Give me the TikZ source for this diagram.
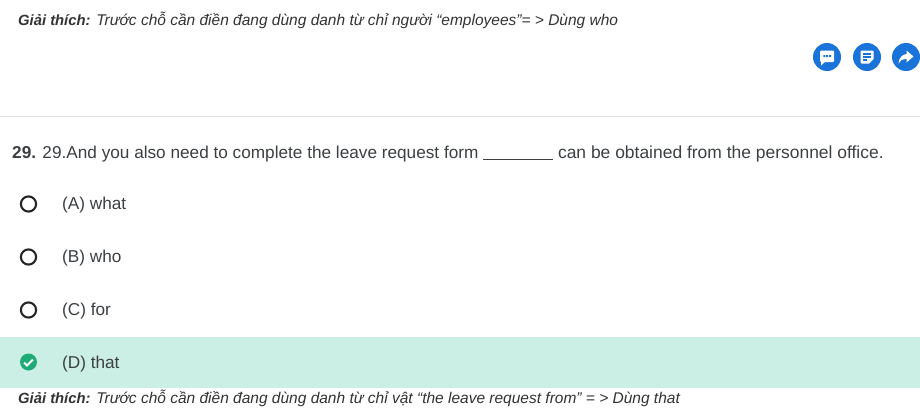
\documentclass[tikz,border=0pt]{standalone}
\usepackage{fontspec}
\setmainfont{Liberation Sans}
\definecolor{txt}{HTML}{3C4043}
\definecolor{exp}{HTML}{333333}
\definecolor{bluec}{HTML}{1A73D9}
\definecolor{greenbar}{HTML}{CBEFE4}
\definecolor{greenc}{HTML}{1FAB78}
\definecolor{rule}{HTML}{DDDDDD}
\newcommand{\explabel}{{\fontsize{14.8}{18}\selectfont\textbf{\textit{Giải thích:}}}}
\tikzset{x=1pt,y=-1pt,
 qtext/.style={anchor=base west,inner sep=0,text=txt,font=\fontsize{17.2}{20}\selectfont},
 etext/.style={anchor=base west,inner sep=0,text=exp,font=\fontsize{15.5}{18}\selectfont},
 radio/.style={circle,draw=black!85,line width=2.1pt,fill=white,minimum size=15.2pt,inner sep=0},
 badge/.style={circle,fill=bluec,minimum size=28pt,inner sep=0}}
\begin{document}
\begin{tikzpicture}
\useasboundingbox (0,0) rectangle (920,415);
\fill[white] (0,0) rectangle (920,415);
\node[etext] (e1) at (18,25) {\explabel{} \textit{Trước chỗ cần điền đang dùng danh từ chỉ người “employees”= > Dùng who}};
\node[badge] (b1) at (827,57) {};
\node[badge] (b2) at (867,57) {};
\node[badge] (b3) at (906,57) {};
% chat icon
\fill[white,rounded corners=1pt] (820,50.5) rectangle (834,62) ;
\fill[white] (821,61) -- (821,65.5) -- (826,61) -- cycle;
\fill[bluec] (823.3,55.2) rectangle (825.3,57.2) (826.2,55.2) rectangle (828.2,57.2) (829.1,55.2) rectangle (831.1,57.2);
% note icon
\fill[white,rounded corners=1pt] (860.5,50.5) rectangle (873.5,63.5);
\draw[bluec,line width=1.2pt] (862.8,54) -- (871.2,54) (862.8,57) -- (871.2,57) (862.8,60) -- (867,60);
\fill[bluec] (869,63.8) -- (874,63.8) -- (874,59) -- cycle;
% share icon
\fill[white] (906.5,50.5) -- (913.5,56.5) -- (906.5,62.5) -- (906.5,59) .. controls (902,59) and (900,60.5) .. (898.5,63.5) .. controls (899,58) and (902,54.5) .. (906.5,54) -- cycle;
\draw[rule,line width=1pt] (0,116) -- (920,116);
\coordinate (q) at (12,158);
\node[qtext] (qn) at (q) {\textbf{29.} 29.And you also need to complete the leave request form \rule[-1.5pt]{70pt}{0.8pt} {\fontsize{17.45}{20}\selectfont can be obtained from the personnel office.}};
\node[radio] (ra) at (28.5,204) {};
\node[qtext] (ta) at (62,209) {(A) what};
\node[radio] (rb) at (28.5,257) {};
\node[qtext] (tb) at (62,262) {(B) who};
\node[radio] (rc) at (28.5,310) {};
\node[qtext] (tc) at (62,315) {(C) for};
\fill[greenbar] (0,337) rectangle (920,388);
\node[circle,fill=greenc,minimum size=17pt,inner sep=0] (rd) at (28.5,362) {};
\draw[white,line width=1.8pt] (24,362.5) -- (27,365.5) -- (33,359.5);
\node[qtext] (td) at (62,368) {(D) that};
\node[etext] (e2) at (18,403) {\explabel{} \textit{Trước chỗ cần điền đang dùng danh từ chỉ vật “the leave request from” = > Dùng that}};
\end{tikzpicture}
\end{document}
